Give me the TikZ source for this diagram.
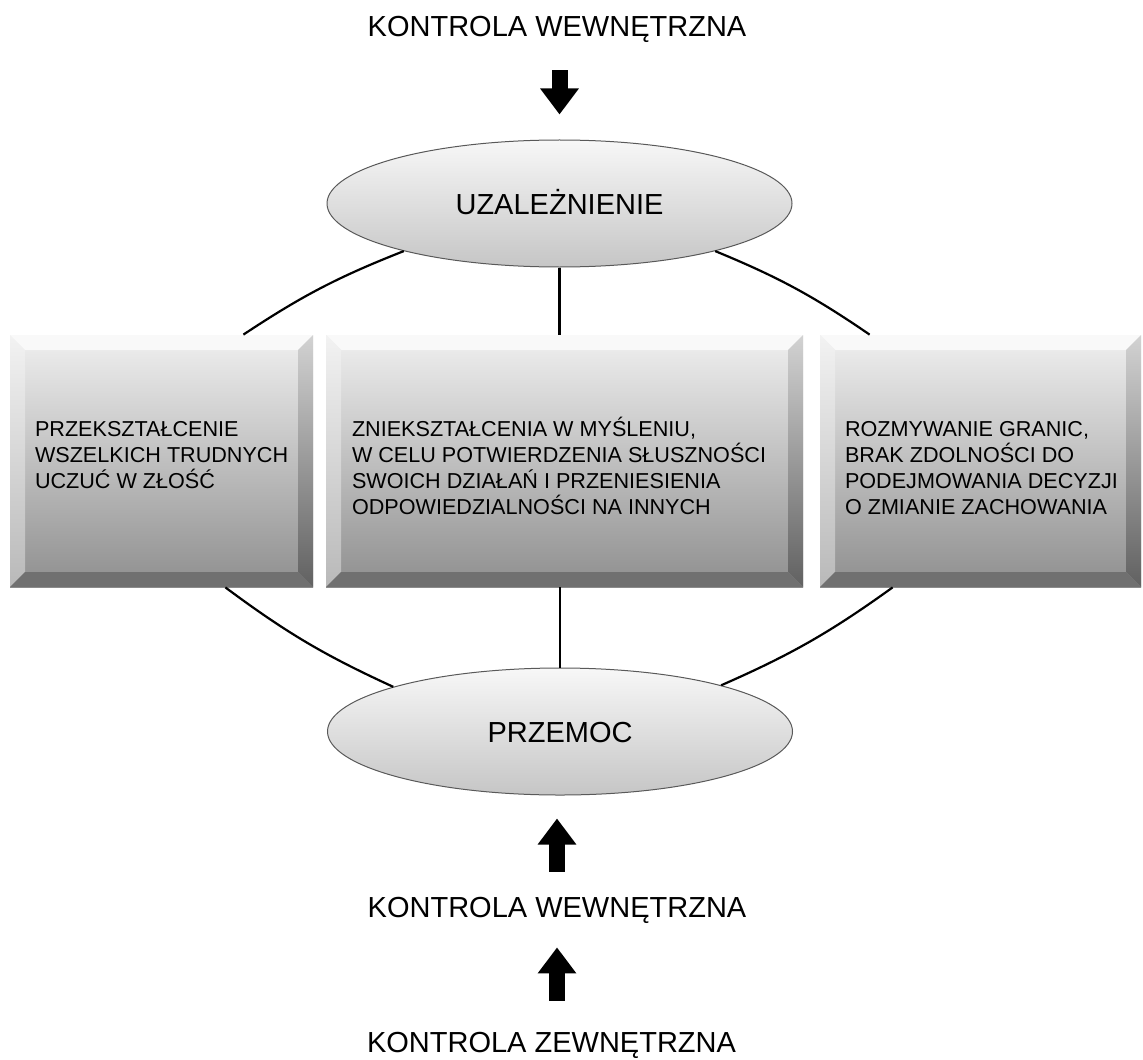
\documentclass[tikz,border=0pt]{standalone}
\usepackage{fontspec}
\setmainfont{Liberation Sans}
\usetikzlibrary{positioning,arrows.meta,shapes.geometric}

\newcommand{\bevw}{7.5pt}

\begin{document}
\begin{tikzpicture}[x=0.5pt,y=-0.5pt]
        \tikzset{
            caption/.style={font=\fontsize{14.5}{17}\selectfont, inner sep=0pt, text height=10.5pt, text depth=3pt},
            oval/.style={ellipse, draw=gray!70!black, line width=0.5pt, top color=gray!6, bottom color=gray!45, minimum width=232.5pt, minimum height=63.5pt, inner sep=0pt, font=\fontsize{14.5}{17}\selectfont, text height=10.5pt, text depth=0pt},
            bevel/.style={minimum width=#1, minimum height=126pt, inner sep=0pt, top color=gray!12, middle color=gray!24, bottom color=gray!88,
                path picture={
                    \coordinate (nw) at (path picture bounding box.north west);
                    \coordinate (ne) at (path picture bounding box.north east);
                    \coordinate (sw) at (path picture bounding box.south west);
                    \coordinate (se) at (path picture bounding box.south east);
                    \fill[gray!5] (nw) -- (ne) -- ([xshift=-\bevw,yshift=-\bevw]ne) -- ([xshift=\bevw,yshift=-\bevw]nw) -- cycle;
                    \shade[top color=gray!10, bottom color=gray!55] (nw) -- ([xshift=\bevw,yshift=-\bevw]nw) -- ([xshift=\bevw,yshift=\bevw]sw) -- (sw) -- cycle;
                    \shade[top color=gray!35, bottom color=black!62] (ne) -- ([xshift=-\bevw,yshift=-\bevw]ne) -- ([xshift=-\bevw,yshift=\bevw]se) -- (se) -- cycle;
                    \fill[black!56] (sw) -- (se) -- ([xshift=-\bevw,yshift=\bevw]se) -- ([xshift=\bevw,yshift=\bevw]sw) -- cycle;
                }},
            boxtext/.style={font=\fontsize{10.8}{13}\selectfont, align=left, inner sep=0pt},
            link/.style={line width=1.1pt, black},
            blockarrow/.style={line width=8pt, -{Triangle[width=18.5pt,length=13pt]}}
        }
        \useasboundingbox (0,0) rectangle (1143,1059);

        % ellipses
        \node[oval] (U) at (559.5,203.5) {UZALEŻNIENIE};
        \node[oval] (P) at (560,731.5) {PRZEMOC};

        % boxes
        \node[bevel=151.5pt] (L) at (161.5,461) {};
        \node[bevel=238.5pt] (M) at (564.5,461) {};
        \node[bevel=160.5pt] (R) at (980.5,461) {};
        \node[boxtext, below right=39.5pt and 12.5pt of L.north west] (Lt) {\rule{0pt}{11pt}PRZEKSZTAŁCENIE\\WSZELKICH TRUDNYCH\\UCZUĆ W ZŁOŚĆ};
        \node[boxtext, below right=39.5pt and 13pt of M.north west] (Mt) {\rule{0pt}{11pt}ZNIEKSZTAŁCENIA W MYŚLENIU,\\W CELU POTWIERDZENIA SŁUSZNOŚCI\\SWOICH DZIAŁAŃ I PRZENIESIENIA\\ODPOWIEDZIALNOŚCI NA INNYCH};
        \node[boxtext, below right=39.5pt and 12.5pt of R.north west] (Rt) {\rule{0pt}{11pt}ROZMYWANIE GRANIC,\\BRAK ZDOLNOŚCI DO\\PODEJMOWANIA DECYZJI\\O ZMIANIE ZACHOWANIA};

        % captions
        \node[caption, anchor=base] (T1) at (557,37) {KONTROLA WEWNĘTRZNA};
        \node[caption, anchor=base] (T2) at (557,917) {KONTROLA WEWNĘTRZNA};
        \node[caption, anchor=base] (T3) at (551.5,1052) {KONTROLA ZEWNĘTRZNA};

        % links
        \draw[link] (U.197) to[bend right=6] ([xshift=-35pt]L.north east);
        \draw[link] (U.343) to[bend left=6] ([xshift=25pt]R.north west);
        \draw[link] (U.south) -- (U.south |- M.north);
        \draw[link] ([xshift=-44pt]L.south east) to[bend right=6] (P.165);
        \draw[link] ([xshift=36.5pt]R.south west) to[bend left=6] (P.16);
        \draw[link] (M.south -| P.north) -- (P.north);

        % arrows
        \draw[blockarrow, shorten <=13.5pt, shorten >=12.5pt] (T1.south -| U.north) -- (U.north);
        \draw[blockarrow, shorten <=12pt, shorten >=11.5pt] (T2.north) -- (T2.north |- P.south);
        \draw[blockarrow, shorten <=15pt, shorten >=12pt] (T3.north -| T2.south) -- (T2.south);
    \end{tikzpicture}
\end{document}
